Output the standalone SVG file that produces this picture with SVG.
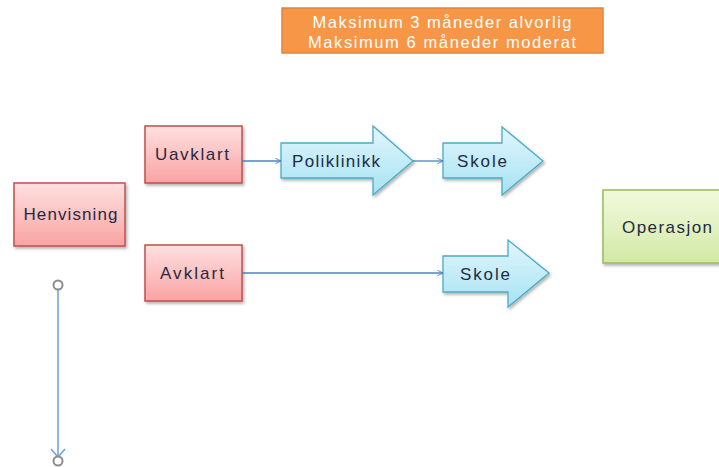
<svg xmlns="http://www.w3.org/2000/svg" width="719" height="467" viewBox="0 0 719 467">
<defs>
<linearGradient id="gRed" x1="0" y1="0" x2="0" y2="1"><stop offset="0" stop-color="#ffe0e0"/><stop offset="1" stop-color="#f9a3a3"/></linearGradient>
<linearGradient id="gBlue" x1="0" y1="0" x2="0" y2="1"><stop offset="0" stop-color="#e2f6fc"/><stop offset="1" stop-color="#a6e2f3"/></linearGradient>
<linearGradient id="gGreen" x1="0" y1="0" x2="0" y2="1"><stop offset="0" stop-color="#f2f9de"/><stop offset="1" stop-color="#d2eaa5"/></linearGradient>
<filter id="sh" x="-10%" y="-10%" width="130%" height="130%"><feDropShadow dx="1.5" dy="2" stdDeviation="1.5" flood-color="#000" flood-opacity="0.3"/></filter>
<marker id="ah" viewBox="0 0 10 10" refX="9" refY="5" markerWidth="7" markerHeight="7" orient="auto" markerUnits="userSpaceOnUse"><path d="M1,1 L9,5 L1,9" fill="none" stroke="#4f81bd" stroke-width="1.3"/></marker>
</defs>
<style>
.red{fill:url(#gRed);stroke:#c0504d;stroke-width:1.5;filter:url(#sh)}
.blue{fill:url(#gBlue);stroke:#4bacc6;stroke-width:1.3;filter:url(#sh)}
.green{fill:url(#gGreen);stroke:#9bbb59;stroke-width:1.5;filter:url(#sh)}
.t{font-family:"Liberation Sans",Arial,sans-serif;font-size:17px;fill:#1f2a44;text-anchor:middle}
.w{font-family:"Liberation Sans",Arial,sans-serif;font-size:16.5px;fill:#ffffff;text-anchor:middle}
.c{fill:none;stroke:#4f81bd;stroke-width:1.3}
</style>
<rect width="719" height="467" fill="#ffffff"/>
<g id="note">
<rect x="282" y="8" width="321" height="45" fill="#f79646" stroke="#e0843e" stroke-width="1.5"/>
<text class="w" x="442" y="28" textLength="259" lengthAdjust="spacing">Maksimum 3 måneder alvorlig</text>
<text class="w" x="442" y="48" textLength="268" lengthAdjust="spacing">Maksimum 6 måneder moderat</text>
</g>
<g id="henvisning">
<rect class="red" x="14" y="183" width="111" height="63"/>
<text class="t" x="70.5" y="220" textLength="94" lengthAdjust="spacing">Henvisning</text>
</g>
<g id="uavklart">
<rect class="red" x="145" y="126" width="97" height="57"/>
<text class="t" x="192" y="160" textLength="74" lengthAdjust="spacing">Uavklart</text>
</g>
<g id="avklart">
<rect class="red" x="145" y="245" width="97" height="56"/>
<text class="t" x="192" y="279" textLength="64" lengthAdjust="spacing">Avklart</text>
</g>
<g id="poliklinikk">
<path class="blue" d="M281,143 H373 V126 L413,161 L373,195 V178 H281 Z"/>
<text class="t" x="336" y="167" textLength="88" lengthAdjust="spacing">Poliklinikk</text>
</g>
<g id="skole1">
<path class="blue" d="M443,143 H502 V127 L543,161 L502,195 V178 H443 Z"/>
<text class="t" x="482" y="167" textLength="50" lengthAdjust="spacing">Skole</text>
</g>
<g id="skole2">
<path class="blue" d="M443,256 H508 V240 L549,273 L508,307 V292 H443 Z"/>
<text class="t" x="485" y="280" textLength="50" lengthAdjust="spacing">Skole</text>
</g>
<g id="operasjon">
<rect class="green" x="603" y="190" width="125" height="73"/>
<text class="t" x="667" y="233" textLength="90" lengthAdjust="spacing">Operasjon</text>
</g>
<g id="connectors">
<line class="c" x1="242" y1="161" x2="281" y2="161" marker-end="url(#ah)"/>
<line class="c" x1="413" y1="161" x2="443" y2="161" marker-end="url(#ah)"/>
<line class="c" x1="242" y1="273" x2="443" y2="273" marker-end="url(#ah)"/>
<line x1="58" y1="289" x2="58" y2="457" stroke="#6f9fd8" stroke-width="1.5"/>
<path d="M51,449 L58,457 L65,449" fill="none" stroke="#6f9fd8" stroke-width="1.5"/>
<circle cx="58" cy="285" r="4.5" fill="#ffffff" stroke="#8c8c8c" stroke-width="2"/>
<circle cx="58" cy="461" r="4.5" fill="#ffffff" stroke="#8c8c8c" stroke-width="2"/>
</g>
</svg>
